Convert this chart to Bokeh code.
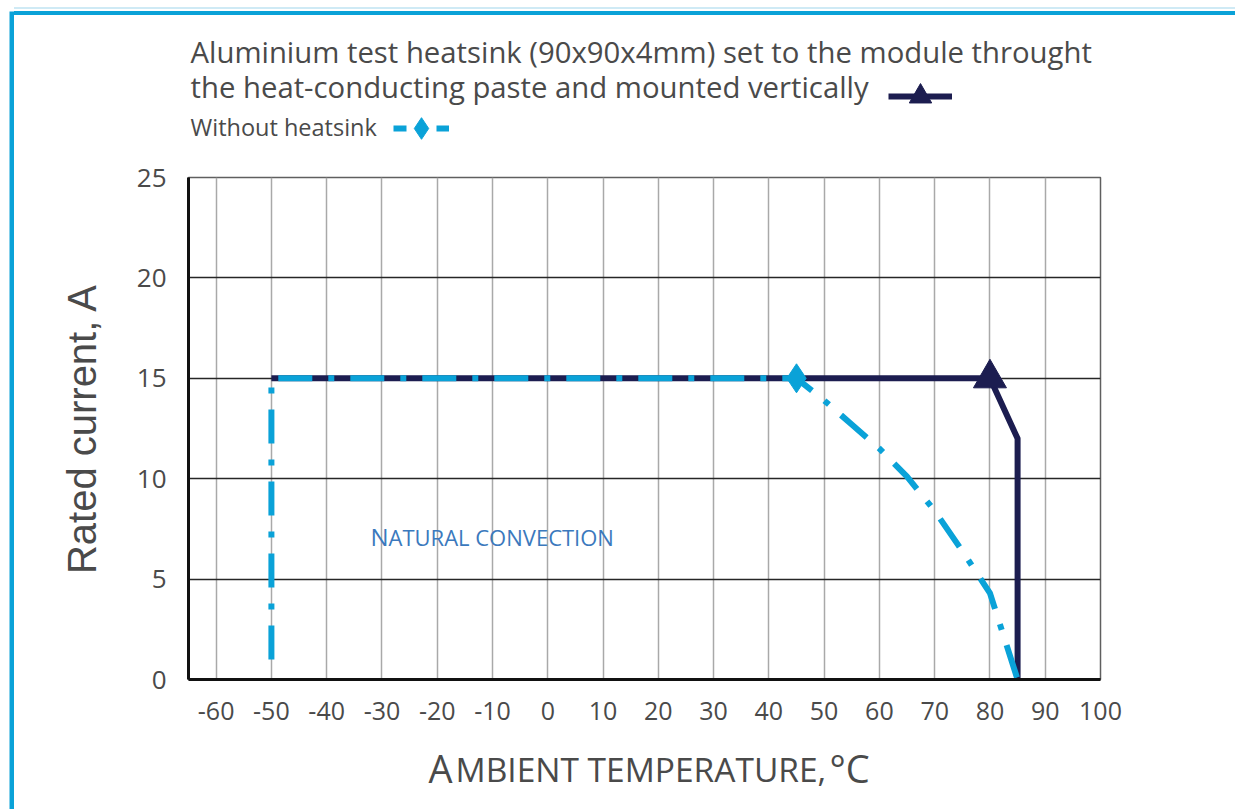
from bokeh.plotting import figure
from bokeh.models import (FixedTicker, Label, Legend, LegendItem, Range1d, Spacer)
from bokeh.layouts import row, column
from bokeh.core.properties import value
from bokeh.embed import file_html
from bokeh.resources import INLINE

# ---------------- data ----------------
heatsink_temp = [-50, 80, 85, 85]
heatsink_current = [15, 15, 12, 0]
heatsink_marker_temp = [80]
heatsink_marker_current = [15]

noheat_temp = [-50, -50, 45, 50, 55, 60, 65, 70, 75, 80, 85]
noheat_current = [1, 15, 15, 13.9, 12.7, 11.5, 10.1, 8.4, 6.4, 4.3, 0]
noheat_marker_temp = [45]
noheat_marker_current = [15]

x_ticks = [-60, -50, -40, -30, -20, -10, 0, 10, 20, 30, 40, 50, 60, 70, 80, 90, 100]
y_ticks = [0, 5, 10, 15, 20, 25]

title_line1 = "Aluminium test heatsink (90x90x4mm) set to the module throught"
title_line2 = "the heat-conducting paste and mounted vertically"
title_line3 = "Without heatsink"
y_title = "Rated current, A"
x_title_parts = ["A", "MBIENT TEMPERATURE,", "°C"]
note_parts = ["N", "ATURAL CONVECTION"]

# ---------------- style / geometry ----------------
NAVY = "#1c1d50"
CYAN = "#0aa2d8"
TEXT = "#4a4a4a"
NOTE = "#3b79bd"
FONT = "Open Sans"
NAN = float("nan")   # legend-sample renderers draw nothing inside a frame

PAGE_W, PAGE_H = 1235, 809
STRIP_W = 14
COL_W = PAGE_W - STRIP_W
GAP_H, BAR_H = 11, 4
HDR_TOP = GAP_H + BAR_H
HDR_BOTTOM = 155
MAIN_BOTTOM = 740
HDR_H = HDR_BOTTOM - HDR_TOP
MAIN_H = MAIN_BOTTOM - HDR_BOTTOM
FTR_H = PAGE_H - MAIN_BOTTOM

FL, FR, FT, FB = 188, 1100, 177, 679        # plot frame in page pixels
BL, BR = FL - STRIP_W, PAGE_W - FR
BT, BB = FT - HDR_BOTTOM, MAIN_BOTTOM - FB
X_MIN, X_MAX, Y_MIN, Y_MAX = -65, 100, 0, 25


def dx(px):
    return X_MIN + (px - FL) * (X_MAX - X_MIN) / (FR - FL)


def dy(py):
    return Y_MIN + (FB - py) * (Y_MAX - Y_MIN) / (FB - FT)


def blank_fig(h, y_top, y_bottom, fill="white"):
    # frames of a column are aligned with the main chart frame: x data == page px
    f = figure(width=COL_W, height=h, x_range=Range1d(FL, FR), y_range=Range1d(y_bottom, y_top),
               output_backend="svg", toolbar_location=None,
               x_axis_type=None, y_axis_type=None,
               min_border=0, min_border_left=BL, min_border_right=BR,
               min_border_top=0, min_border_bottom=0)
    f.grid.visible = False
    f.outline_line_color = None
    f.background_fill_color = fill
    f.border_fill_color = fill
    return f


# ---------------- left cyan strip ----------------
strip = figure(width=STRIP_W, height=PAGE_H, x_range=Range1d(0, 1), y_range=Range1d(0, 1),
               output_backend="svg", toolbar_location=None,
               x_axis_type=None, y_axis_type=None,
               min_border=0, min_border_left=9, min_border_right=0,
               min_border_top=GAP_H, min_border_bottom=0)
strip.grid.visible = False
strip.outline_line_color = None
strip.background_fill_color = CYAN
strip.border_fill_color = "white"

# ---------------- top cyan bar ----------------
gap = Spacer(width=COL_W, height=GAP_H,
             styles={"background": "linear-gradient(to bottom, #ffffff 0px, #ffffff 7px, "
                                   "#cfeaf5 7px, #cfeaf5 9px, #ffffff 9px)"})
bar = Spacer(width=COL_W, height=BAR_H, styles={"background-color": CYAN})

# ---------------- header (titles + legend samples) ----------------
hdr = blank_fig(HDR_H, HDR_TOP, HDR_BOTTOM)
BASE_SHIFT = 0.42   # svg alphabetic baseline correction (fraction of font size)


def add_text(fig, text, px, py, size, color=TEXT):
    fig.add_layout(Label(x=px, y=py - BASE_SHIFT * size, text=text, text_font=FONT,
                         text_font_size=f"{size}px", text_color=color, text_align="left",
                         text_baseline="alphabetic"))


add_text(hdr, title_line1, 190, 64, 29.3)
add_text(hdr, title_line2, 190, 99, 29.3)
add_text(hdr, title_line3, 190, 136, 23.5)

leg_navy_line = hdr.line(x=[NAN], y=[NAN], line_color=NAVY, line_width=6)
leg_navy_mark = hdr.scatter(x=[NAN], y=[NAN], marker="triangle", fill_color=NAVY,
                            line_color=NAVY)
leg_cyan_line = hdr.line(x=[NAN], y=[NAN], line_color=CYAN, line_width=6, line_dash="13 30")
leg_cyan_mark = hdr.scatter(x=[NAN], y=[NAN], marker="diamond", fill_color=CYAN,
                            line_color=CYAN)


def make_legend(renderers, left_px, center_py, gw, gh):
    return Legend(items=[LegendItem(label=value(" "), renderers=renderers)],
                  location=(left_px - FL, HDR_BOTTOM - (center_py + gh / 2)),
                  glyph_width=gw, glyph_height=gh, label_text_font_size="1px",
                  label_standoff=0, label_width=0, label_height=0, padding=0, spacing=0,
                  margin=0, border_line_alpha=0, background_fill_alpha=0)


hdr.add_layout(make_legend([leg_navy_line, leg_navy_mark], 888, 96, 64, 56))
hdr.add_layout(make_legend([leg_cyan_line, leg_cyan_mark], 393, 128, 56, 54))

# ---------------- main chart ----------------
p = figure(width=COL_W, height=MAIN_H, x_range=Range1d(X_MIN, X_MAX),
           y_range=Range1d(Y_MIN, Y_MAX), output_backend="svg", toolbar_location=None,
           min_border_left=BL, min_border_right=BR, min_border_top=BT, min_border_bottom=BB)
p.background_fill_color = "white"
p.border_fill_color = "white"
p.outline_line_color = "#5f5f5f"
p.outline_line_width = 1.5

p.xaxis.ticker = FixedTicker(ticks=x_ticks)
p.yaxis.ticker = FixedTicker(ticks=y_ticks)
p.xgrid.ticker = FixedTicker(ticks=x_ticks)
p.ygrid.ticker = FixedTicker(ticks=y_ticks)
p.xaxis.major_label_overrides = {t: str(t) for t in x_ticks}
p.xgrid.grid_line_color = "#a9a9a9"
p.xgrid.grid_line_width = 1.5
p.ygrid.grid_line_color = "#262626"
p.ygrid.grid_line_width = 1.5

for ax in p.axis:
    ax.axis_line_color = "#111111"
    ax.axis_line_width = 3
    ax.major_tick_in = 0
    ax.major_tick_out = 0
    ax.minor_tick_in = 0
    ax.minor_tick_out = 0
    ax.major_label_text_font = FONT
    ax.major_label_text_color = TEXT
p.xaxis.major_label_standoff = 22
p.yaxis.major_label_standoff = 22
p.xaxis.major_label_text_font_size = "25px"
p.yaxis.major_label_text_font_size = "26px"

p.yaxis.axis_label = y_title
p.yaxis.axis_label_text_font = "Liberation Sans"
p.yaxis.axis_label_text_font_style = "normal"
p.yaxis.axis_label_text_font_size = "40px"
p.yaxis.axis_label_text_color = TEXT
p.yaxis.axis_label_standoff = 30

navy_line = p.line(heatsink_temp, heatsink_current, line_color=NAVY, line_width=6,
                   line_join="round")
navy_mark = p.scatter(heatsink_marker_temp, heatsink_marker_current, marker="triangle",
                      size=33, fill_color=NAVY, line_color=NAVY)
cyan_line = p.line(noheat_temp, noheat_current, line_color=CYAN, line_width=6,
                   line_dash="34 16 6 16")
cyan_mark = p.scatter(noheat_marker_temp, noheat_marker_current, marker="diamond",
                      size=29, fill_color=CYAN, line_color=CYAN)

for txt, px, size in [(note_parts[0], 370, 24), (note_parts[1], 388, 22)]:
    p.add_layout(Label(x=dx(px), y=dy(546 - BASE_SHIFT * size), text=txt, text_font=FONT,
                       text_font_size=f"{size}px", text_color=NOTE,
                       text_baseline="alphabetic"))

# ---------------- footer (x axis title in small caps) ----------------
ftr = blank_fig(FTR_H, MAIN_BOTTOM, PAGE_H)
add_text(ftr, x_title_parts[0], 428, 783, 38)
add_text(ftr, x_title_parts[1], 455, 783, 33.5)
add_text(ftr, x_title_parts[2], 829, 783, 38)

layout = row(strip, column(gap, bar, hdr, p, ftr, spacing=0), spacing=0)
open("out.html", "w").write(file_html(layout, INLINE))
